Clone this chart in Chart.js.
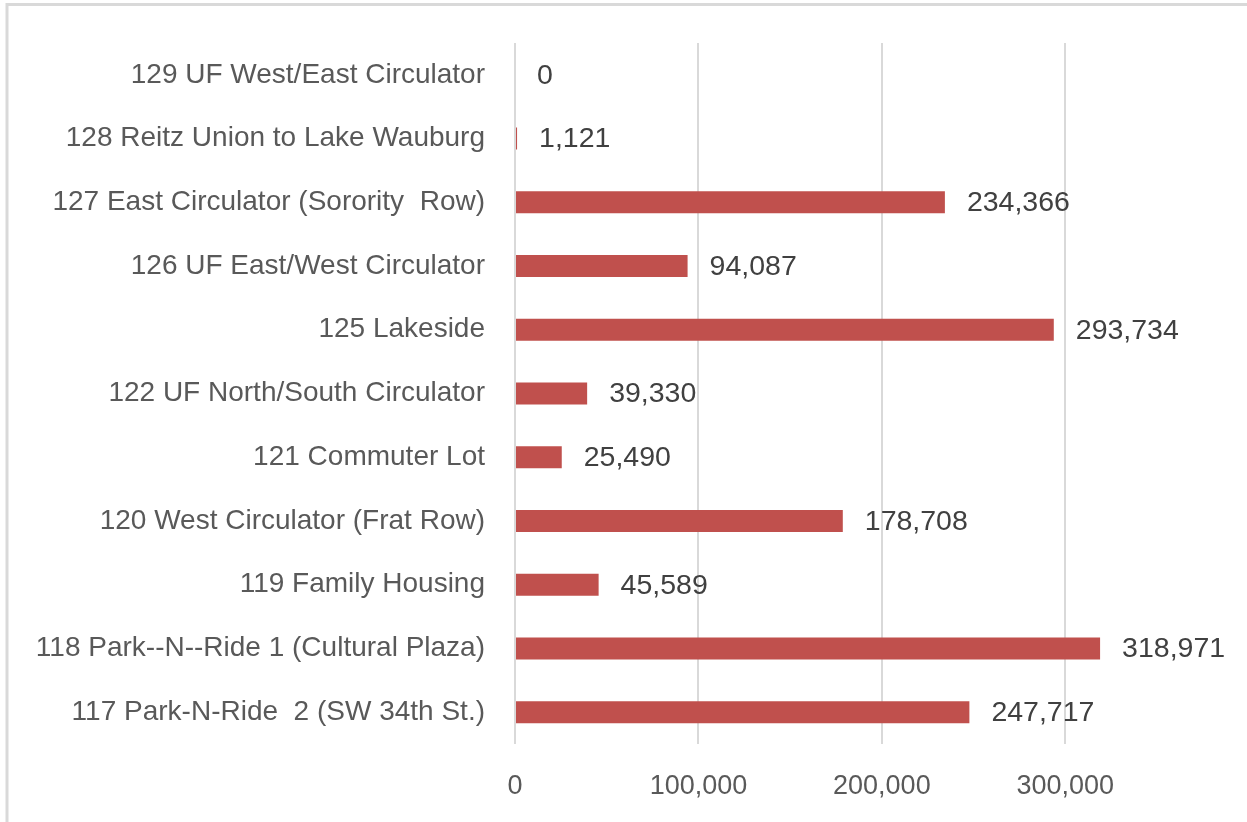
<!DOCTYPE html>
<html>
<head>
  <meta charset="utf-8">
  <script src="https://cdn.jsdelivr.net/npm/chart.js@4"></script>
  <style>
    body { margin: 0; background: #fff; }
    #wrap { width: 1247px; height: 822px; position: relative; }
  </style>
  <script>
    // routes, top to bottom as shown
    const routes = [
      '129 UF West/East Circulator',
      '128 Reitz Union to Lake Wauburg',
      '127 East Circulator (Sorority  Row)',
      '126 UF East/West Circulator',
      '125 Lakeside',
      '122 UF North/South Circulator',
      '121 Commuter Lot',
      '120 West Circulator (Frat Row)',
      '119 Family Housing',
      '118 Park--N--Ride 1 (Cultural Plaza)',
      '117 Park-N-Ride  2 (SW 34th St.)'
    ];
    const riders = [0, 1121, 234366, 94087, 293734, 39330, 25490, 178708, 45589, 318971, 247717];
    const xTicks = [0, 100000, 200000, 300000];

    const fontFamily = "'Liberation Sans', Arial, sans-serif";
    const fmt = v => v.toLocaleString('en-US');

    // white background + the thin frame on the left/top edges
    const frame = {
      id: 'frame',
      beforeDraw(chart) {
        const ctx = chart.ctx;
        ctx.save();
        ctx.fillStyle = '#fff';
        ctx.fillRect(0, 0, chart.width, chart.height);
        ctx.strokeStyle = '#d9d9d9';
        ctx.lineWidth = 3;
        ctx.beginPath();
        ctx.moveTo(7, chart.height);
        ctx.lineTo(7, 4.5);
        ctx.lineTo(chart.width, 4.5);
        ctx.stroke();
        ctx.restore();
      }
    };

    // value labels after each bar end
    const barLabels = {
      id: 'barLabels',
      afterDatasetsDraw(chart) {
        const ctx = chart.ctx;
        const meta = chart.getDatasetMeta(0);
        ctx.save();
        ctx.font = '28.5px ' + fontFamily;
        ctx.fillStyle = '#404040';
        ctx.textAlign = 'left';
        ctx.textBaseline = 'middle';
        meta.data.forEach((bar, i) => {
          ctx.fillText(fmt(riders[i]), bar.x + 22, bar.y + 1);
        });
        ctx.restore();
      }
    };

    function draw() {
      new Chart(document.getElementById('chart'), {
        type: 'bar',
        data: {
          labels: routes,
          datasets: [{
            data: riders,
            backgroundColor: '#c0504d',
            borderWidth: 0,
            barPercentage: 0.345,
            categoryPercentage: 1
          }]
        },
        options: {
          indexAxis: 'y',
          responsive: true,
          maintainAspectRatio: false,
          animation: false,
          layout: { padding: { top: 43, right: 90, left: 0, bottom: 0 } },
          plugins: { legend: { display: false }, tooltip: { enabled: false } },
          scales: {
            x: {
              min: 0,
              max: 350000,
              afterBuildTicks: axis => {
                axis.ticks = xTicks.map(v => ({ value: v }));
              },
              afterFit: scale => { scale.height = 78; },
              grid: { color: '#d9d9d9', lineWidth: 2, drawTicks: false },
              border: { display: false },
              ticks: {
                padding: 26,
                color: '#595959',
                font: { family: fontFamily, size: 27 },
                callback: v => fmt(v)
              }
            },
            y: {
              afterFit: scale => {
                scale.width = 515;
                scale.paddingTop = 0;
                scale.paddingBottom = 0;
              },
              grid: { display: false, drawTicks: false },
              border: { display: false },
              ticks: {
                padding: 30,
                color: '#595959',
                font: { family: fontFamily, size: 28 }
              }
            }
          }
        },
        plugins: [frame, barLabels]
      });
    }
  </script>
</head>
<body onload="draw()">
<div id="wrap"><canvas id="chart"></canvas></div>
</body>
</html>
